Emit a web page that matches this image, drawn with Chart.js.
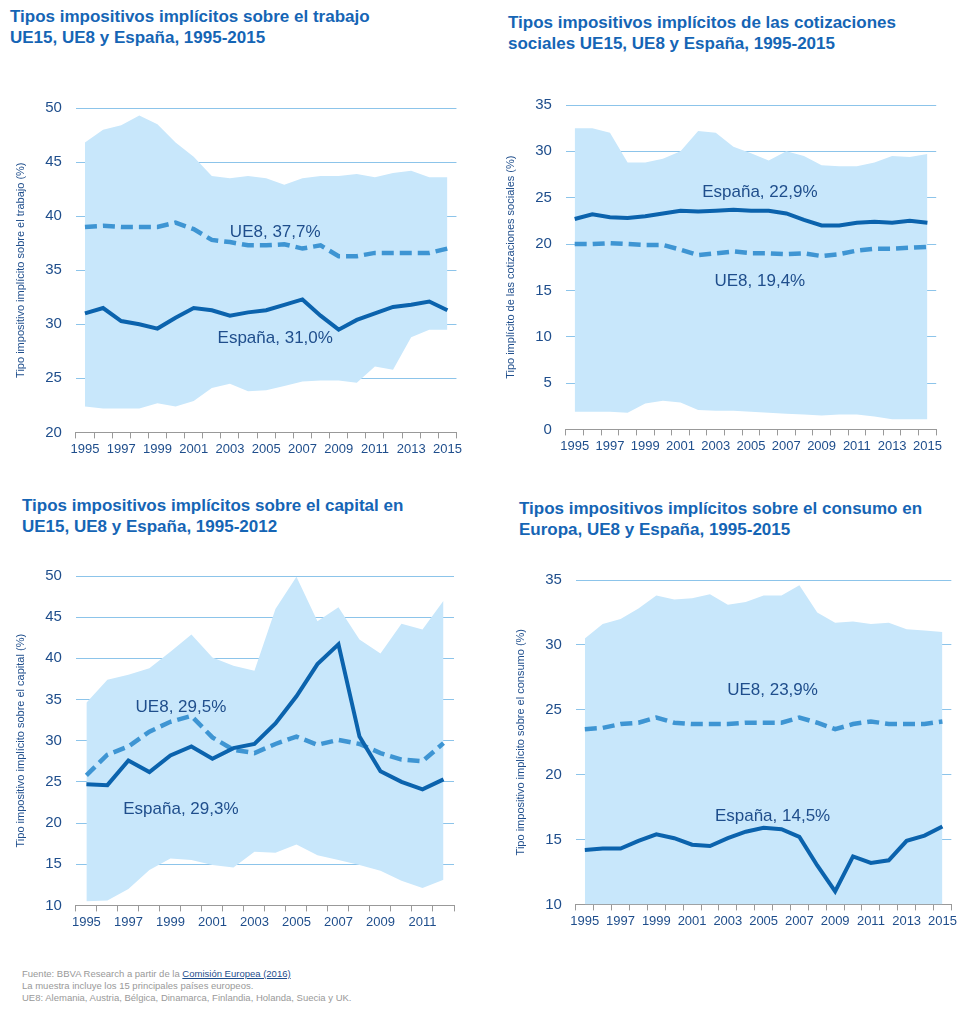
<!DOCTYPE html>
<html><head><meta charset="utf-8">
<script src="https://cdn.jsdelivr.net/npm/chart.js@4"></script>
<style>
body{margin:0;width:969px;height:1013px;background:#fff;font-family:Arial,"Liberation Sans",sans-serif;position:relative;overflow:hidden}
.t{position:absolute;color:#1565b5;font-weight:bold;font-size:17px;line-height:21px}
.c{position:absolute}
.f{position:absolute;left:22px;top:968px;font-size:9.5px;color:#999;line-height:12px}
</style></head><body>
<div class="t" style="left:10px;top:6px">Tipos impositivos implícitos sobre el trabajo<br>UE15, UE8 y España, 1995-2015</div>
<div class="t" style="left:508px;top:12px">Tipos impositivos implícitos de las cotizaciones<br>sociales UE15, UE8 y España, 1995-2015</div>
<div class="t" style="left:22px;top:495px">Tipos impositivos implícitos sobre el capital en<br>UE15, UE8 y España, 1995-2012</div>
<div class="t" style="left:519px;top:498px">Tipos impositivos implícitos sobre el consumo en<br>Europa, UE8 y España, 1995-2015</div>
<div class="c" style="left:10px;top:85px;width:455px;height:375px"><canvas id="c1"></canvas></div>
<div class="c" style="left:500px;top:82px;width:445px;height:375px"><canvas id="c2"></canvas></div>
<div class="c" style="left:10px;top:553px;width:450px;height:380px"><canvas id="c3"></canvas></div>
<div class="c" style="left:510px;top:557px;width:450px;height:375px"><canvas id="c4"></canvas></div>
<div class="f">Fuente: BBVA Research a partir de la <span style="color:#1f4e8c;text-decoration:underline">Comisión Europea (2016)</span><br>La muestra incluye los 15 principales países europeos.<br>UE8: Alemania, Austria, Bélgica, Dinamarca, Finlandia, Holanda, Suecia y UK.</div>
<script>
const years21 = Array.from({length:21},(_,i)=>String(1995+i));
const years18 = Array.from({length:18},(_,i)=>String(1995+i));

const trabajoEsp = [31.0,31.5,30.3,30.0,29.6,30.6,31.5,31.3,30.8,31.1,31.3,31.8,32.3,30.8,29.5,30.4,31.0,31.6,31.8,32.1,31.3];
const trabajoUE8 = [39.0,39.1,39.0,39.0,39.0,39.4,38.8,37.8,37.6,37.3,37.3,37.4,37.0,37.3,36.3,36.3,36.6,36.6,36.6,36.6,37.0];
const trabajoMax = [46.8,48.0,48.4,49.3,48.5,46.8,45.5,43.7,43.5,43.7,43.5,42.9,43.5,43.7,43.7,43.9,43.6,44.0,44.2,43.6,43.6];
const trabajoMin = [22.4,22.2,22.2,22.2,22.7,22.4,22.9,24.1,24.5,23.8,23.9,24.3,24.7,24.8,24.8,24.6,26.1,25.8,28.8,29.5,29.5];

const cotizEsp = [22.7,23.2,22.9,22.8,23.0,23.3,23.6,23.5,23.6,23.7,23.6,23.6,23.3,22.6,22.0,22.0,22.3,22.4,22.3,22.5,22.3];
const cotizUE8 = [20.0,20.0,20.1,20.0,19.9,19.9,19.4,18.8,19.0,19.2,19.0,19.0,18.9,19.0,18.7,18.9,19.3,19.5,19.5,19.6,19.7];
const cotizMax = [32.5,32.5,32.0,28.8,28.8,29.2,30.0,32.2,32.0,30.5,29.8,29.0,30.0,29.5,28.5,28.4,28.4,28.8,29.5,29.4,29.7];
const cotizMin = [1.9,1.9,1.9,1.8,2.8,3.1,2.9,2.1,2.0,2.0,1.9,1.8,1.7,1.6,1.5,1.6,1.6,1.4,1.1,1.1,1.1];

const capitalEsp = [24.7,24.6,27.6,26.2,28.2,29.3,27.8,29.1,29.6,32.1,35.4,39.3,41.7,30.5,26.3,25.0,24.1,25.3];
const capitalUE8 = [25.8,28.3,29.3,31.1,32.3,33.0,30.4,28.9,28.5,29.6,30.5,29.5,30.1,29.6,28.5,27.7,27.5,29.7];
const capitalMax = [34.6,37.4,38.0,38.8,40.8,42.9,40.1,39.1,38.5,46.0,49.9,44.5,46.2,42.3,40.6,44.2,43.5,47.0];
const capitalMin = [10.5,10.6,12.0,14.3,15.7,15.5,14.9,14.6,16.5,16.4,17.4,16.1,15.5,14.9,14.2,13.0,12.1,13.1];

const consumoEsp = [14.2,14.3,14.3,14.9,15.4,15.1,14.6,14.5,15.1,15.6,15.9,15.8,15.2,13.0,11.0,13.7,13.2,13.4,14.9,15.3,16.0];
const consumoUE8 = [23.5,23.6,23.9,24.0,24.4,24.0,23.9,23.9,23.9,24.0,24.0,24.0,24.4,24.0,23.5,23.9,24.1,23.9,23.9,23.9,24.1];
const consumoMax = [30.5,31.6,32.0,32.8,33.8,33.5,33.6,33.9,33.1,33.3,33.8,33.8,34.6,32.5,31.7,31.8,31.6,31.7,31.2,31.1,31.0];
const consumoMin = Array(21).fill(10);

const DARK='#1f4e8c', BAND='#c8e7fb', ESP='#0b63ad', UE8C='#3e95d3';

const labelPlugin = {
  id:'lbls',
  afterDatasetsDraw(chart){
    const ctx=chart.ctx, xs=chart.scales.x, ys=chart.scales.y;
    ctx.save(); ctx.font='17px Arial, "Liberation Sans", sans-serif'; ctx.fillStyle=DARK;
    ctx.textAlign='center'; ctx.textBaseline='middle';
    (chart.options.plugins.lbls.items||[]).forEach(it=>{
      ctx.fillText(it.t, xs.getPixelForValue(it.i), ys.getPixelForValue(it.v));
    });
    ctx.restore();
  }
};

function make(id, labels, esp, ue8, mx, mn, ymin, ymax, step, ytitle, items){
  new Chart(document.getElementById(id),{
    type:'line',
    data:{labels, datasets:[
      {data:esp, borderColor:ESP, borderWidth:4, pointRadius:0, fill:false, order:0, tension:0},
      {data:ue8, borderColor:UE8C, borderWidth:4.5, borderDash:[12,6], pointRadius:0, fill:false, order:1, tension:0},
      {data:mx, borderWidth:0, pointRadius:0, backgroundColor:BAND, fill:'+1', order:2},
      {data:mn, borderWidth:0, pointRadius:0, fill:false, order:3}
    ]},
    options:{
      responsive:true, maintainAspectRatio:false, animation:false,
      layout:{padding:{right:6}},
      plugins:{legend:{display:false}, tooltip:{enabled:false}, lbls:{items}},
      scales:{
        x:{offset:true, grid:{display:true, drawOnChartArea:false, offset:true, tickLength:6, color:'#999'},
           border:{display:true,color:'#999'},
           ticks:{autoSkip:false, maxRotation:0, color:DARK, font:{size:13},
             callback:(v,i)=> i%2===0 ? labels[i] : ''}},
        y:{min:ymin, max:ymax, grid:{color:'#8cc4ea', borderDash:[1,2], drawTicks:false},
           border:{display:false},
           ticks:{stepSize:step, color:DARK, font:{size:15}, padding:14},
           title:{display:true, text:ytitle, color:DARK, font:{size:11}}}
      }
    },
    plugins:[labelPlugin]
  });
}
make('c1', years21, trabajoEsp, trabajoUE8, trabajoMax, trabajoMin, 20, 50, 5, 'Tipo impositivo implícito sobre el trabajo (%)',
  [{t:'UE8, 37,7%', i:10.5, v:38.5},{t:'España, 31,0%', i:10.5, v:28.7}]);
make('c2', years21, cotizEsp, cotizUE8, cotizMax, cotizMin, 0, 35, 5, 'Tipo implícito de las cotizaciones sociales (%)',
  [{t:'España, 22,9%', i:10.5, v:25.6},{t:'UE8, 19,4%', i:10.5, v:16.0}]);
make('c3', years18, capitalEsp, capitalUE8, capitalMax, capitalMin, 10, 50, 5, 'Tipo impositivo implícito sobre el capital (%)',
  [{t:'UE8, 29,5%', i:4.5, v:34.0},{t:'España, 29,3%', i:4.5, v:21.7}]);
make('c4', years21, consumoEsp, consumoUE8, consumoMax, consumoMin, 10, 35, 5, 'Tipo impositivo implícito sobre el consumo (%)',
  [{t:'UE8, 23,9%', i:10.5, v:26.5},{t:'España, 14,5%', i:10.5, v:16.8}]);
</script>
</body></html>
